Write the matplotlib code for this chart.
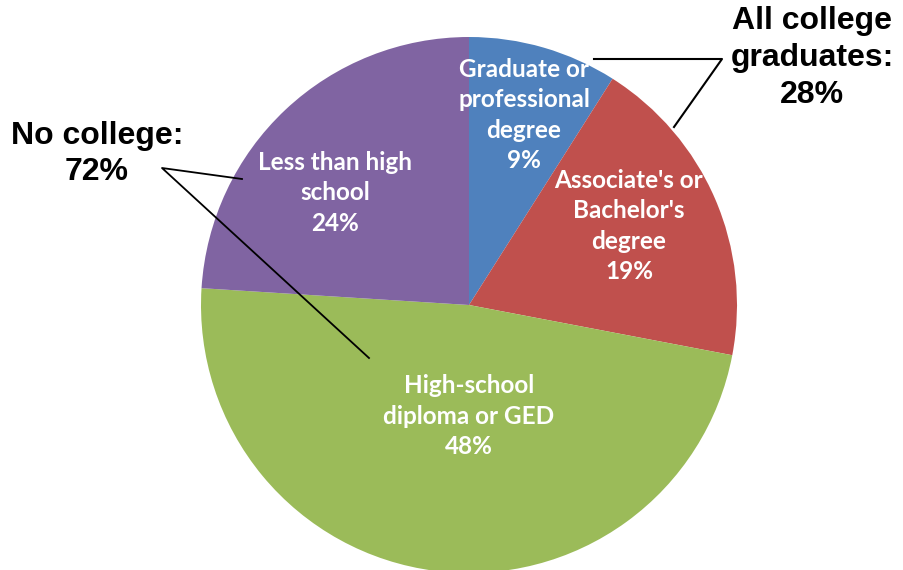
import matplotlib.pyplot as plt

# education shares, clockwise from 12 o'clock
categories = ["Graduate or\nprofessional\ndegree", "Associate's or\nBachelor's\ndegree",
              "High-school\ndiploma or GED", "Less than high\nschool"]
shares = [9, 19, 48, 24]
colors = ["#4F81BD", "#C0504D", "#9BBB59", "#8064A2"]
# label centres in pixel coordinates (x, y from top)
label_pos = [(524, 115), (629, 226), (469, 416), (335, 193)]

W, H = 904, 570
fig = plt.figure(figsize=(W / 100, H / 100), dpi=100)
ax = fig.add_axes([0, 0, 1, 1])

ax.pie(shares, colors=colors, startangle=90, counterclock=False,
       center=(469, H - 305), radius=268, frame=False)
ax.set_xlim(0, W)
ax.set_ylim(0, H)
ax.set_aspect("equal")
ax.axis("off")

for cat, val, (px, py) in zip(categories, shares, label_pos):
    ax.text(px, H - py, f"{cat}\n{val}%", ha="center", va="center",
            color="white", fontsize=17.5, fontweight="bold", family="Lato",
            linespacing=1.38)

college = shares[0] + shares[1]
no_college = shares[2] + shares[3]
big = dict(fontsize=23, fontweight="bold", family="Liberation Sans", color="black",
           ha="center", va="center", linespacing=1.3)
ax.text(812, H - 58, f"All college\ngraduates:\n{college}%", **big)
ax.text(97, H - 154, f"No college:\n{no_college}%", **big)

# bracket lines
ax.plot([594, 722, 674], [H - 59, H - 59, H - 127], color="black", lw=1.5)
ax.plot([242, 162, 369], [H - 179, H - 168, H - 358], color="black", lw=1.3)

fig.savefig("out.png", dpi=100)
